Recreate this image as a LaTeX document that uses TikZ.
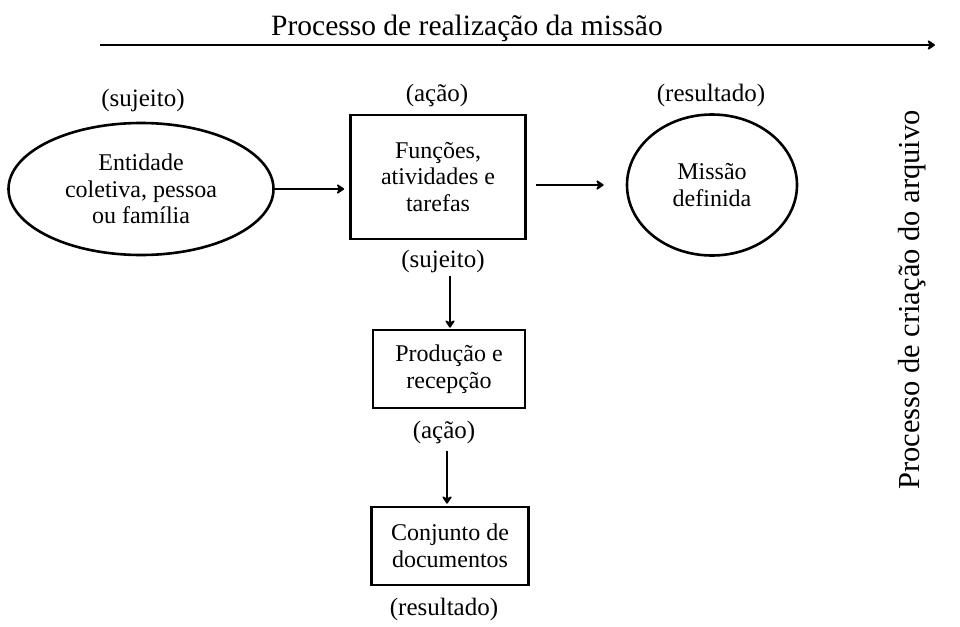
\documentclass[tikz,border=0pt]{standalone}
\usepackage{fontspec}
\setmainfont{Liberation Serif}
\usetikzlibrary{arrows.meta,shapes.geometric}

\begin{document}
\begin{tikzpicture}[
  x=1pt, y=-1pt,
  lbl/.style={font=\fontsize{25}{28}\selectfont, inner sep=1pt},
  nbase/.style={draw, line width=2.6pt, align=center, font=\fontsize{24}{26.5}\selectfont},
  nell/.style={nbase, ellipse, inner sep=0pt},
  nbox/.style={nbase, rectangle, inner sep=2pt},
  conn/.style={line width=2.6pt, -{Stealth[length=9pt,width=12pt,inset=3pt,round]}}
 ]
  \useasboundingbox (0,0) rectangle (960,626);

  % fluxo da missao
  \node (titulo) [font=\fontsize{29.5}{32}\selectfont] at (467,28) {Processo de realização da missão};
  \coordinate (mA) at (100,45);
  \coordinate (mB) at (935,45);
  \draw [conn, line width=2.8pt] (mA) -- (mB);

  \node (arq) [font=\fontsize{30.5}{33}\selectfont, rotate=90] at (912,300) {Processo de criação do arquivo};

  % linha de cima
  \node (suj1) [lbl] at (143,100) {(sujeito)};
  \node (ent) [nell, minimum width=265, minimum height=132] at (141,189) {Entidade\\coletiva, pessoa\\ou família};

  \node (aca1) [lbl] at (437,95) {(ação)};
  \node (func) [nbox, minimum width=175, minimum height=124] at (438,177) {Funções,\\atividades e\\tarefas};

  \node (res1) [lbl] at (711,95) {(resultado)};
  \node (miss) [nell, minimum width=170, minimum height=141] at (712,185) {Missão\\definida};

  % coluna de baixo
  \node (suj2) [lbl] at (443,261) {(sujeito)};
  \node (prod) [nbox, minimum width=152, minimum height=78] at (449,369) {Produção e\\recepção};
  \node (aca2) [lbl] at (444,432) {(ação)};
  \node (conj) [nbox, minimum width=157, minimum height=78] at (450,546) {Conjunto de\\documentos};
  \node (res2) [lbl] at (444,609) {(resultado)};

  \draw [conn, shorten >=5pt] (ent.east) -- (ent.east -| func.west);
  \draw [conn, shorten <=9pt, shorten >=22pt] (miss.west -| func.east) -- (miss.west);
  \draw [conn, shorten <=2pt, shorten >=1pt] ([xshift=7pt]suj2.south) -- ([xshift=7pt]suj2.south |- prod.north);
  \draw [conn, shorten <=6pt, shorten >=2pt] ([xshift=3pt]aca2.south) -- ([xshift=3pt]aca2.south |- conj.north);
\end{tikzpicture}
\end{document}
